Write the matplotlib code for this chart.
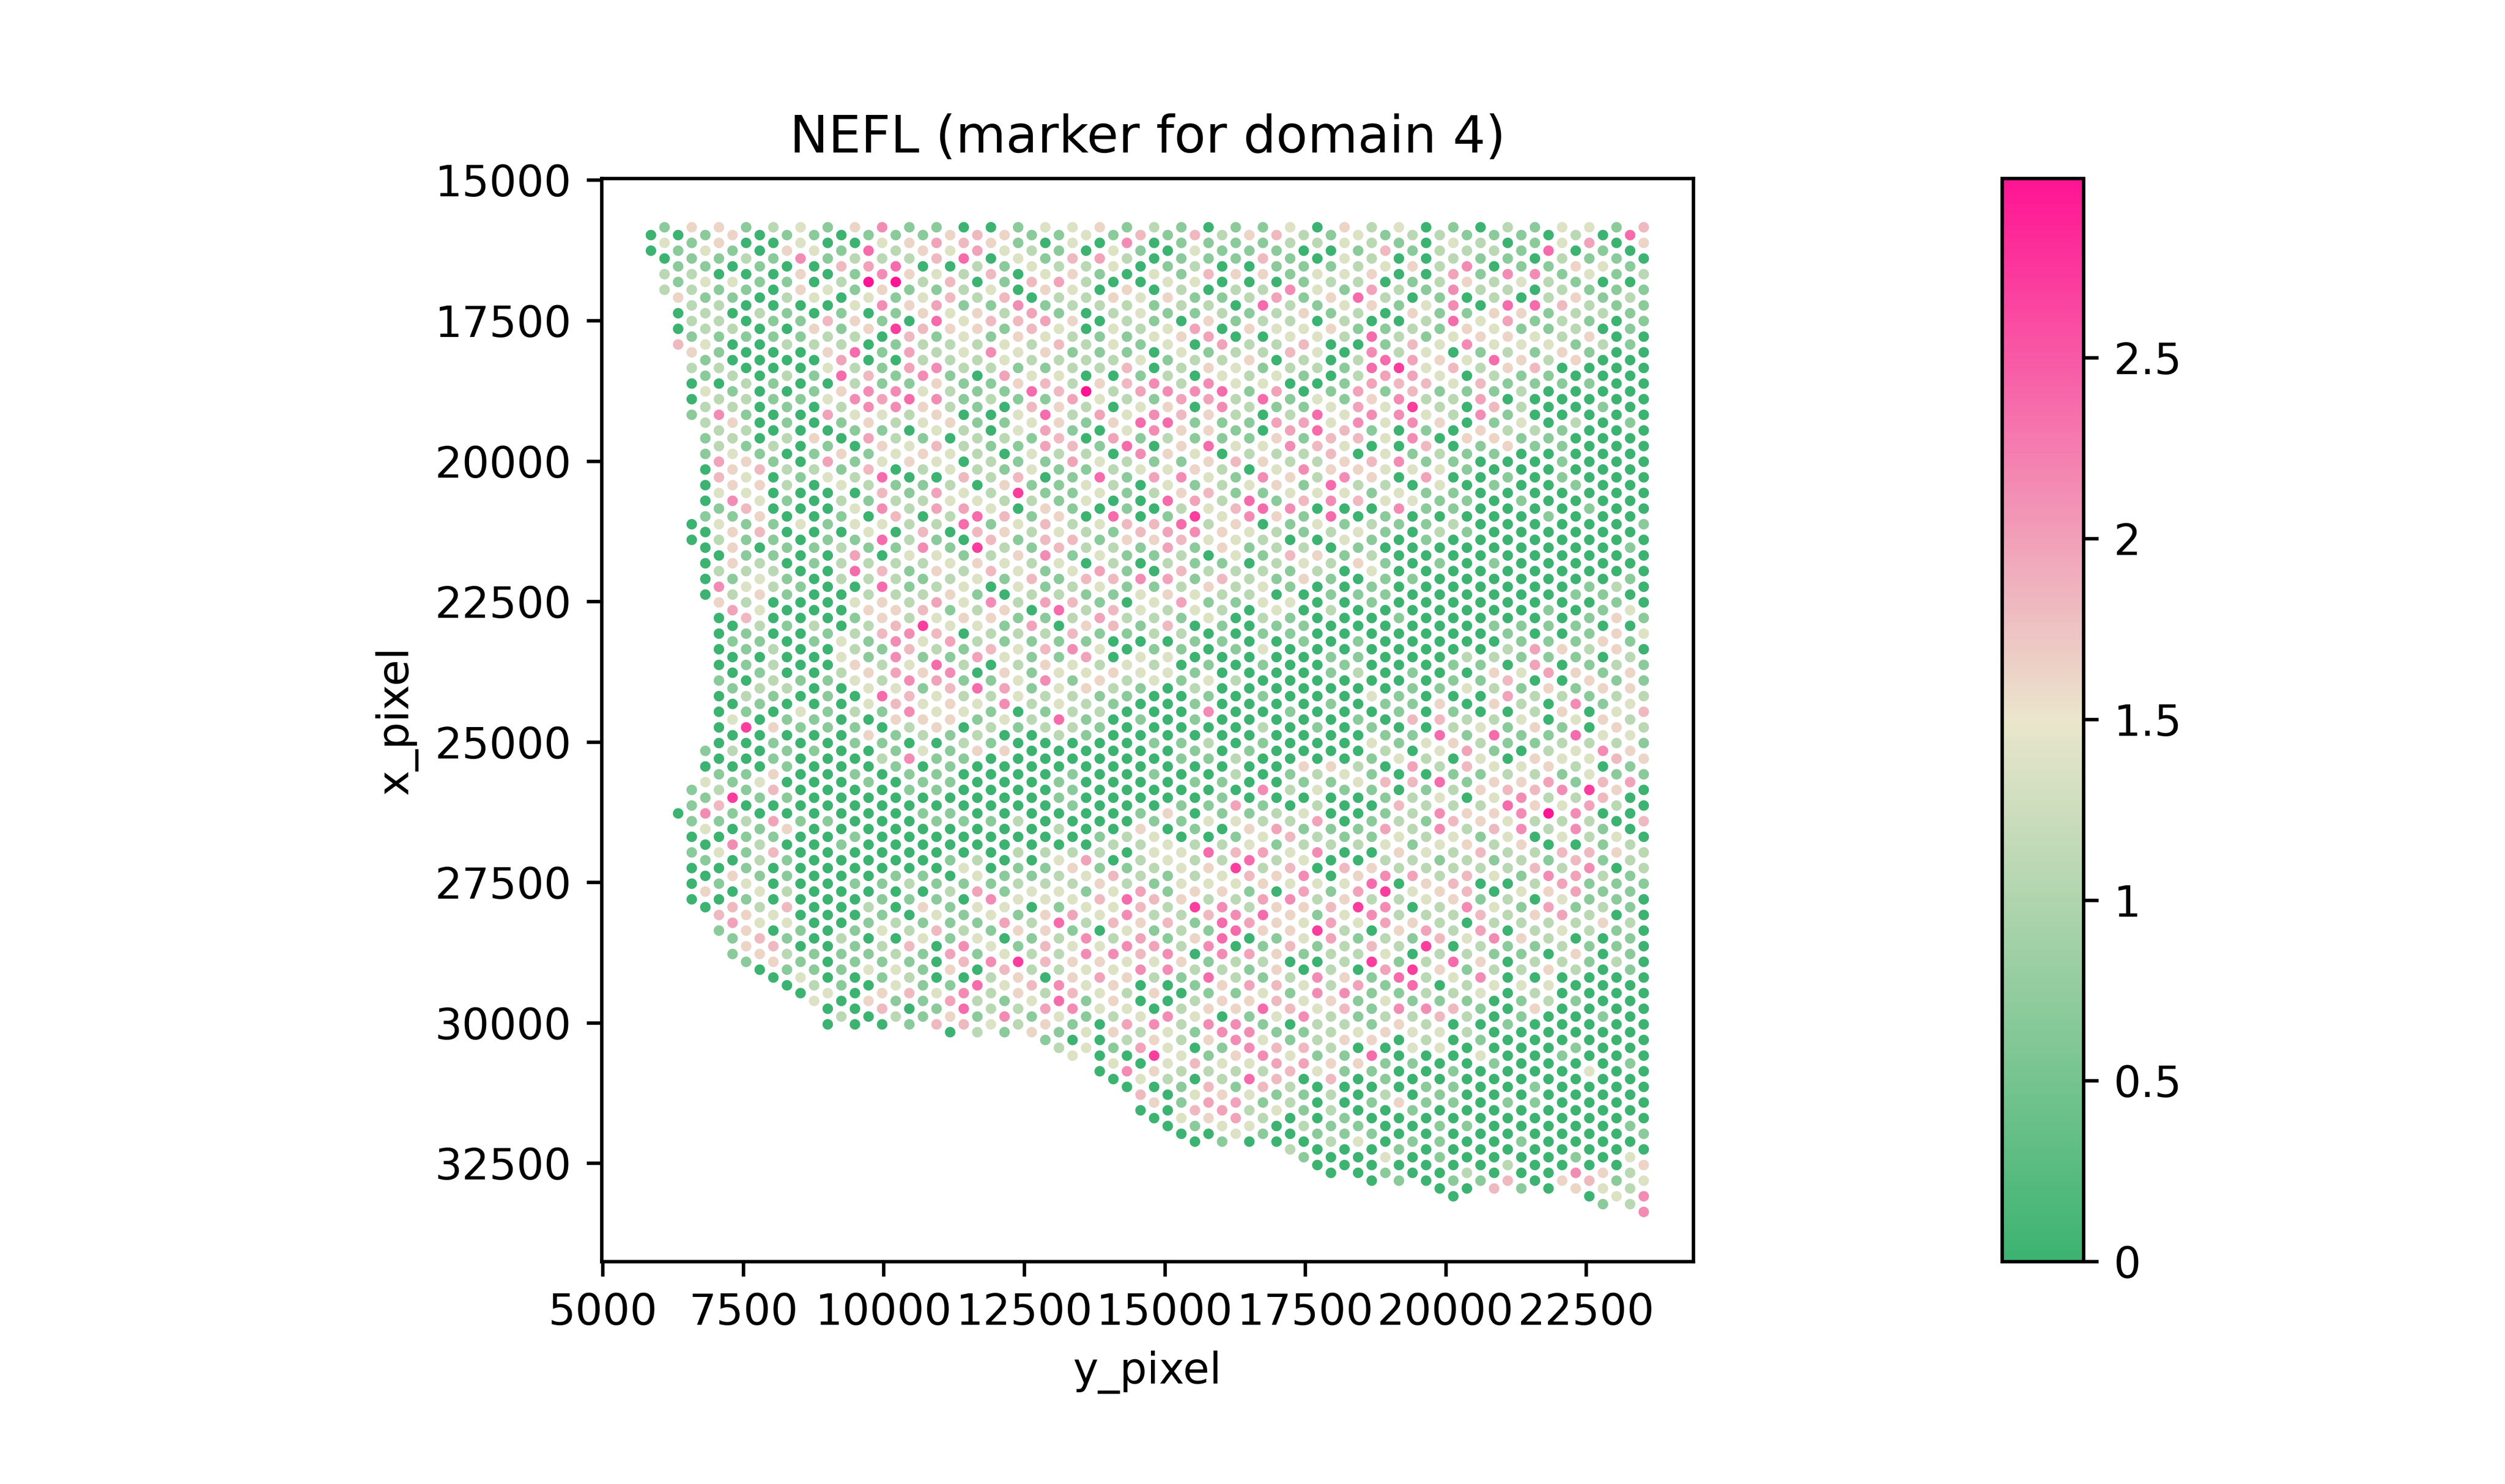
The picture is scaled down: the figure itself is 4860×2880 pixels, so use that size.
import matplotlib
matplotlib.use('Agg')
import numpy as np
import matplotlib.pyplot as plt
from matplotlib.colors import LinearSegmentedColormap

title = 'NEFL (marker for domain 4)'
x_ticks = [5000, 7500, 10000, 12500, 15000, 17500, 20000, 22500]
y_ticks = [15000, 17500, 20000, 22500, 25000, 27500, 30000, 32500]
cbar_ticks = [0, 0.5, 1, 1.5, 2, 2.5]
cbar_labels = ['0', '0.5', '1', '1.5', '2', '2.5']
vmax = 2.996

# spot centres
col_y = [5859, 6101, 6343, 6585, 6827, 7069, 7311, 7553, 7795, 8037,
         8279, 8521, 8763, 9005, 9247, 9489, 9731, 9973, 10215, 10457,
         10699, 10941, 11183, 11425, 11667, 11909, 12151, 12393, 12635, 12877,
         13119, 13361, 13603, 13845, 14087, 14329, 14571, 14813, 15055, 15297,
         15539, 15781, 16023, 16265, 16507, 16749, 16991, 17233, 17475, 17717,
         17959, 18201, 18443, 18685, 18927, 19169, 19411, 19653, 19895, 20137,
         20379, 20621, 20863, 21105, 21347, 21589, 21831, 22073, 22315, 22557,
         22799, 23041, 23283, 23525]
row_x = [15841, 15980, 16119, 16258, 16397, 16537, 16676, 16815, 16954, 17093,
         17232, 17371, 17510, 17649, 17788, 17928, 18067, 18206, 18345, 18484,
         18623, 18762, 18901, 19040, 19179, 19319, 19458, 19597, 19736, 19875,
         20014, 20153, 20292, 20431, 20570, 20710, 20849, 20988, 21127, 21266,
         21405, 21544, 21683, 21822, 21961, 22101, 22240, 22379, 22518, 22657,
         22796, 22935, 23074, 23213, 23352, 23492, 23631, 23770, 23909, 24048,
         24187, 24326, 24465, 24604, 24743, 24883, 25022, 25161, 25300, 25439,
         25578, 25717, 25856, 25995, 26134, 26274, 26413, 26552, 26691, 26830,
         26969, 27108, 27247, 27386, 27525, 27665, 27804, 27943, 28082, 28221,
         28360, 28499, 28638, 28777, 28916, 29056, 29195, 29334, 29473, 29612,
         29751, 29890, 30029, 30168, 30307, 30447, 30586, 30725, 30864, 31003,
         31142, 31281, 31420, 31559, 31698, 31838, 31977, 32116, 32255, 32394,
         32533, 32672, 32811, 32950, 33089, 33229, 33368]

# expression estimated from spot colour, one character per spot
level_values = {'0': 0.0, '1': 0.69, '2': 1.08, '3': 1.39, '4': 1.62, '5': 1.82,
                '6': 1.97, '7': 2.13, '8': 2.37, 'a': 2.7, '9': 2.996}

left_rows = [
    "1441231471100133412", "0014011011145411315", "3140030034654103070", "0131043182436321031",
    "0112171222580315620", " 110100568002132230", "2200040174325034103", " 133110299250156200",
    "2211043141123043040", " 411023031352502243", " 220000374611712221", " 020210101434261023",
    " 220115410835564021", " 02200414a544153032", " 111112205131432113", " 530022201222325231",
    " 410004816237341110", "  10000600222322223", " 220003216722112250", "  12021851710633001",
    " 002100211411452457", "  31001477321185926", " 022113768712116321", "  22010277421054203",
    " 171006332400382637", "  24010142341134148", "  22000110320361037", "  12024062102215061",
    "  21201043521165180", "  13101413432032207", "  64106134302116321", "  04522150232131123",
    "  53013280052501816", "  04420321120411320", "  33000051632a11312", "  07310212233221300",
    "  15000372663041010", "  11400105028514080", " 031131332281352355", "  04500030505423215",
    " 021101182105155144", "  0401121171a215221", "  01100603312471311", "  04201222234323020",
    "  22200851425313610", "  01310222123151557", "  73210081230312311", "  02410022241022113",
    "  42000342637265103", "   6300044512408253", "  05000142344112622", "   0212025a33160451",
    "  01001257502225112", "   1101317362111100", "  01200215215357301", "   0000317116311603",
    "  01200423820243232", "   0100246470413343", "  10211327611371423", "   1220033158613421",
    "  02101085322322110", "   0100035343723210", "  01031217331012200", "   3011004441328101",
    "  0a411102402122100", "   0000041212002100", "  00100110021000001", "  12011001314400000",
    "  00100027110000000", "  00010001010000000", "  11400101100001001", "  31300010110001000",
    " 121500001100001000", "  1a110000000001000", " 150000000000001000", " 071000000110000001",
    " 112611000111200001", "  30140000000002004", " 001100100000000123", "  07200100000000022",
    " 131500000000222203", "  10210000012003602", " 001000000030114112", "  04110001103112352",
    " 013000112111222421", "  40320000026133136", " 001000011107333585", "  05250020413301335",
    "  54300010313146372", "   6330012111628254", "  14010132521441031", "   1510200313012726",
    "   4500125073153376", "   1421112161322775", "   1410111057a54433", "    011133140522337",
    "    030012002404642", "     02103118357340", "     03045372425324", "      3041162138140",
    "      0050182267330", "       202141713123", "      0001553241067", "           02141342",
    "              10024", "               2316", "               300a", "                 30",
    "                074", "                 03", "                 00", "                  5",
    "                  4", "                  0", "                  0", "", "", "", "", "", "", "", "", "", "", "", "",
]

right_rows = [
    "101130423010213315", "152452131221110208", "111122321032013604", "031110015122218010",
    "111510320021102110", "120011123427011431", "154413340061771312", "330001220124232100",
    "202273162172202111", "411261482010202412", "220821341370885211", "112124120411441221",
    "041220200283612101", "360433411214311201", "460033282134432400", "306225001537333121",
    "312253072301214100", "122402028643842400", "24312218a352450000", "203231026630211000",
    "273300165535111100", "778160161511120000", "662813147226000000", "407211363a20520010",
    "542028377327100000", "811166373740130201", "441068510104221000", "211141553704411000",
    "483375300501411000", "430222503121100000", "145422457110001000", "342037443331000000",
    "731742740600101000", "312341822030100100", "451133313110000000", "862815753311010000",
    "235870007110000100", "1a3741801000001000", "824013121120000001", "674321231021000000",
    "533200310100000000", "614122010000000001", "203154120000000000", "211023241010100000",
    "522212030000000000", "615214101100000001", "242310010000000120", "432200111000000110",
    "611330010000000010", "232030200000001013", "130210001000000141", "501011000000111100",
    "200110000000100143", "011001010000011141", "101300000000264240", "300000110002211102",
    "010100100011060121", "310000120100436414", "132000000011500411", "020000000113214144",
    "010100031000622122", "010000101140420713", "070010001010024035", "010000010552230342",
    "000201010023141042", "000000001181811833", "120100031342112221", "010100002036102374",
    "112000013203043354", "000004420625334201", "002012310011221311", "011001135581446156",
    "000723110124557a40", "001000001230372250", "116102005222843620", "401123001274479700",
    "133226012154322205", "010461116272572710", "001352113231303230", "322312223134240012",
    "385637004325225542", "322823002212121512", "34a250542222252702", "123547047625317621",
    "333433380450026111", "14410616a345034611", "422672422341203110", "2a72445a7027316121",
    "257841372225246200", "518643636420222242", "21844a204626023210", "148013612153742001",
    "270151252a02112110", "707641223022110401", "4122002a1284022120", "722140206a41224201",
    "182127418237000000", "014653261802333000", "011317711223020000", "024453413111012100",
    "244853517751040000", "730137212252010010", "277102214200100000", "317711234332000000",
    "247312440201000000", "301755200330000100", "314731180003001000", "353366441100100001",
    "222253110010000300", "202850501000000000", "151520000110010000", "034311202010000000",
    "166120014110110000", "056231200100000000", "346200100000000000", "013302110011000001",
    "003101110000000001", " 01000230110010000", "    20001000000000", "     1003010000103",
    "     0000000200004", "      001002000742", "       01011504513", "          00510432",
    "          0    037", "                12", "                 7",
]

# staggered lattice: even rows use odd columns and odd rows use even columns
xs, ys, vals = [], [], []
for r in range(len(row_x)):
    line = left_rows[r].ljust(19) + right_rows[r].ljust(18)
    for i, ch in enumerate(line):
        if ch == ' ':
            continue
        col = 2 * i + (r + 1) % 2
        ys.append(row_x[r])
        xs.append(col_y[col])
        vals.append(level_values[ch])

cmap = LinearSegmentedColormap.from_list('nefl', ['#3CB371', '#EAE6CC', '#FF1493'])

W, H = 4860, 2880
top, bottom = 346.3, 2448.3
fig = plt.figure(figsize=(W / 600, H / 600), dpi=600)
ax = fig.add_axes([1167.3 / W, 1 - bottom / H, 2118 / W, (bottom - top) / H])
cax = fig.add_axes([3884.3 / W, 1 - bottom / H, 158 / W, (bottom - top) / H])

sc = ax.scatter(xs, ys, c=vals, s=6, cmap=cmap, vmin=0, vmax=vmax, linewidths=0)
ax.set_xlim(4982, 24408)
ax.set_ylim(34251, 14972)
ax.set_xticks(x_ticks)
ax.set_yticks(y_ticks)
ax.set_xlabel('y_pixel')
ax.set_ylabel('x_pixel')
ax.set_title(title)

cbar = fig.colorbar(sc, cax=cax)
cbar.set_ticks(cbar_ticks)
cbar.set_ticklabels(cbar_labels)

fig.savefig('out.png', dpi=600)
